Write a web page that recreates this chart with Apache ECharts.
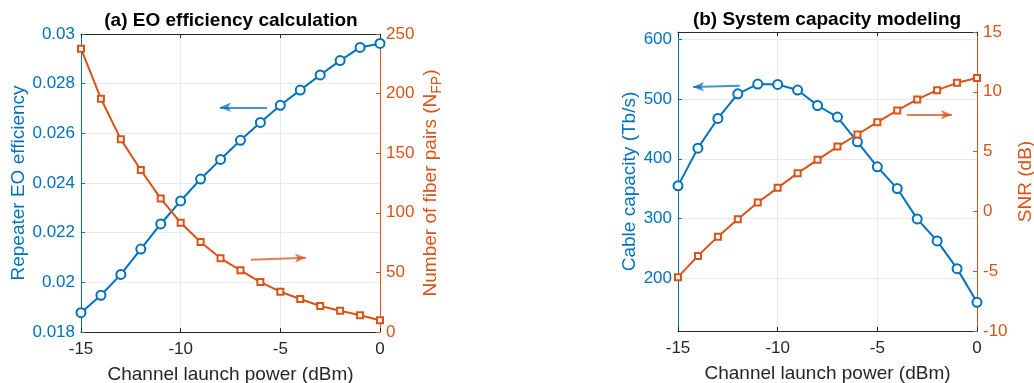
<!DOCTYPE html>
<html><head><meta charset="utf-8">
<script src="https://cdn.jsdelivr.net/npm/echarts@6/dist/echarts.min.js"></script>
<style>html,body{margin:0;padding:0;background:#fff}#c{width:1034px;height:383px}</style>
</head><body><div id="c"></div>
<script>
// ---- data ----
const launchPower = [-15,-14,-13,-12,-11,-10,-9,-8,-7,-6,-5,-4,-3,-2,-1,0];
const eoEfficiency = [0.01878,0.01948,0.02032,0.02134,0.02235,0.02328,0.02416,0.02495,0.02572,0.02644,0.02713,0.02774,0.02835,0.02893,0.02946,0.02962];
const fiberPairs = [237.7,195.7,161.6,135.9,111.9,91.7,75.5,61.8,51.7,41.9,33.8,27.7,21.8,17.9,14.0,9.8];
const cableCapacity = [354.7,417.8,467.4,508.7,525.0,524.3,514.9,489.1,469.7,428.4,386.5,350.2,299.5,262.7,216.3,160.0];
const snrDb = [-5.5,-3.72,-2.11,-0.65,0.74,1.97,3.2,4.31,5.42,6.43,7.46,8.44,9.36,10.14,10.75,11.15];
const xTicks = [-15,-10,-5,0];
const eoTicks = [0.018,0.02,0.022,0.024,0.026,0.028,0.03];
const fpTicks = [0,50,100,150,200,250];
const capTicks = [200,300,400,500,600];
const capRange = [112,612];
const snrTicks = [-10,-5,0,5,10,15];
// annotation arrows [x1,y1,x2,y2] in data units
const arrowEO = [-5.67,0.02705,-8.03,0.02705];
const arrowFP = [-6.48,60.7,-3.72,62.3];
const arrowCap = [-11.9,522,-14.25,520];
const arrowSNR = [-3.52,8.08,-1.26,8.08];

const BLUE = '#0072BD', ORANGE = '#D95319', DARK = '#262626', GRIDC = '#e6e9ee';
const FONT = 'Liberation Sans, Arial, sans-serif';
const pairs = ys => launchPower.map((x,i)=>[x,ys[i]]);
const fmt = v => String(+(+v).toFixed(4));

function xAx(g){
  return [{
    gridIndex:g, type:'value', min:xTicks[0], max:xTicks[xTicks.length-1], interval:xTicks[1]-xTicks[0],
    position:'bottom',
    axisLine:{onZero:false, lineStyle:{color:DARK,width:1}},
    axisTick:{inside:true,length:4,lineStyle:{color:DARK}},
    axisLabel:{color:DARK,fontSize:17,fontFamily:FONT,margin:9,formatter:fmt},
    splitLine:{show:true,lineStyle:{color:GRIDC,width:1}},
    name:'Channel launch power (dBm)', nameLocation:'middle', nameGap:33,
    nameTextStyle:{color:DARK,fontSize:19,fontFamily:FONT}
  },{
    gridIndex:g, type:'value', min:xTicks[0], max:xTicks[xTicks.length-1], interval:xTicks[1]-xTicks[0],
    position:'top',
    axisLine:{onZero:false, lineStyle:{color:DARK,width:1}},
    axisTick:{inside:true,length:4,lineStyle:{color:DARK}},
    axisLabel:{show:false}, splitLine:{show:false}
  }];
}
function yAx(g, pos, color, ticks, name, gap, opts){
  const o = {
    gridIndex:g, type:'value', position:pos,
    min:ticks[0], max:ticks[ticks.length-1], interval:ticks[1]-ticks[0],
    axisLine:{show:true,onZero:false,lineStyle:{color:color,width:1}},
    axisTick:{show:true,inside:true,length:4,lineStyle:{color:color}},
    axisLabel:{color:color,fontSize:17,fontFamily:FONT,margin:6,formatter:fmt},
    splitLine:{show:false},
    name:name, nameLocation:'middle', nameGap:gap,
    nameTextStyle:{color:color,fontSize:19,fontFamily:FONT}
  };
  return Object.assign(o, opts||{});
}
function arrow(a, color){
  return {
    silent:true, symbol:['none','arrow'], symbolSize:[7,11],
    lineStyle:{color:color,width:2,type:'solid',opacity:0.75},
    label:{show:false}, emphasis:{disabled:true},
    data:[[{coord:[a[0],a[1]]},{coord:[a[2],a[3]]}]]
  };
}
function line(xi, yi, data, color, sym, size, bw, ann){
  return {
    type:'line', xAxisIndex:xi, yAxisIndex:yi, data:data,
    lineStyle:{color:color,width:2}, itemStyle:{color:color,borderColor:color,borderWidth:bw},
    symbol:sym, symbolSize:size, showSymbol:true, animation:false,
    markLine:ann
  };
}

const option = {
  backgroundColor:'#fff',
  animation:false,
  grid:[{left:81,right:654,top:34,bottom:51,outerBoundsMode:'none',containLabel:false},
        {left:678,right:57,top:32,bottom:52,outerBoundsMode:'none',containLabel:false}],
  xAxis:[...xAx(0), ...xAx(1)],
  yAxis:[
    yAx(0,'left',BLUE,eoTicks,'Repeater EO efficiency',53,{splitLine:{show:true,lineStyle:{color:GRIDC}}}),
    yAx(0,'right',ORANGE,fpTicks,'{n|Number of fiber pairs (N}{s|FP}{n|)}',40,{
      nameTextStyle:{color:ORANGE,fontSize:19,fontFamily:FONT,rich:{
        n:{color:ORANGE,fontSize:19,fontFamily:FONT,lineHeight:19},
        s:{color:ORANGE,fontSize:14,fontFamily:FONT,lineHeight:14,padding:[12,0,0,0]}}}}),
    yAx(1,'left',BLUE,capTicks,'Cable capacity (Tb/s)',39,{
      min:capRange[0], max:capRange[1], interval:null,
      axisTick:{show:true,inside:true,length:4,lineStyle:{color:BLUE},customValues:capTicks},
      axisLabel:{color:BLUE,fontSize:17,fontFamily:FONT,margin:6,customValues:capTicks},
      splitLine:{show:true,lineStyle:{color:GRIDC}}}),
    yAx(1,'right',ORANGE,snrTicks,'SNR (dB)',39)
  ],
  series:[
    line(0,0,pairs(eoEfficiency),BLUE,'emptyCircle',9,1.6,arrow(arrowEO,BLUE)),
    line(0,1,pairs(fiberPairs),ORANGE,'emptyRect',6,2,arrow(arrowFP,ORANGE)),
    line(2,2,pairs(cableCapacity),BLUE,'emptyCircle',9,1.6,arrow(arrowCap,BLUE)),
    line(2,3,pairs(snrDb),ORANGE,'emptyRect',6,2,arrow(arrowSNR,ORANGE))
  ],
  graphic:[
    {type:'text',x:231,y:21,style:{text:'(a) EO efficiency calculation',fill:'#000',font:'bold 19px '+FONT,textAlign:'center',textVerticalAlign:'middle'}},
    {type:'text',x:827,y:20,style:{text:'(b) System capacity modeling',fill:'#000',font:'bold 19px '+FONT,textAlign:'center',textVerticalAlign:'middle'}}
  ]
};
const chart = echarts.init(document.getElementById('c'), null, {renderer:'canvas'});
chart.setOption(option);
</script></body></html>
